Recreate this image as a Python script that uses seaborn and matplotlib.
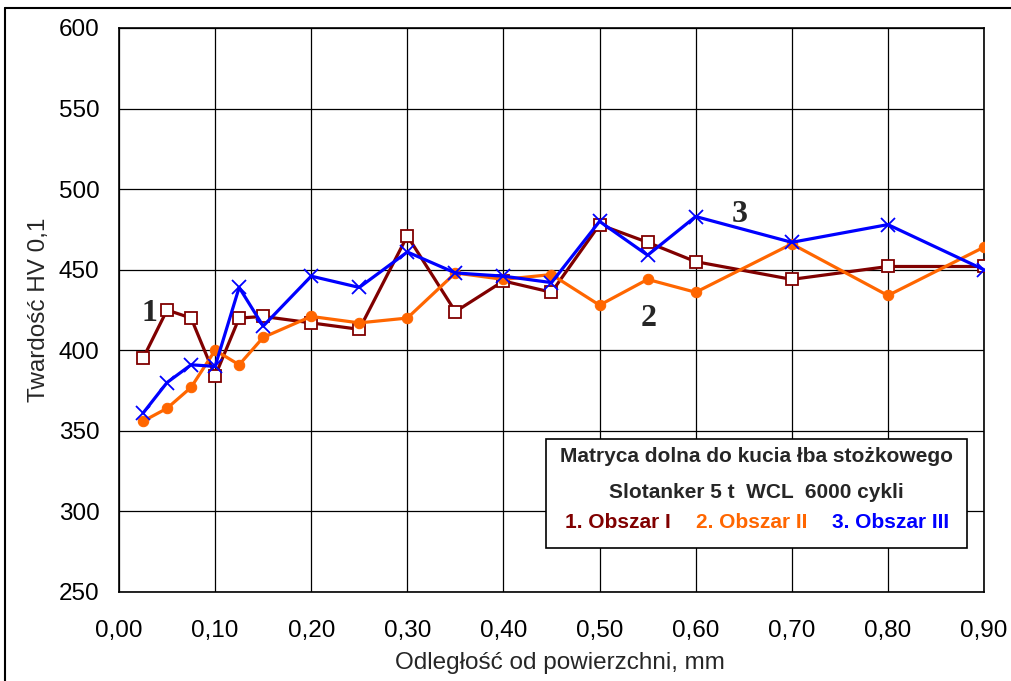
import numpy as np
import pandas as pd
import matplotlib
matplotlib.use("Agg")
import matplotlib.pyplot as plt
import seaborn as sns
from matplotlib.ticker import MultipleLocator, FuncFormatter

# ---- data ----
x_vals = [0.025, 0.05, 0.075, 0.10, 0.125, 0.15, 0.20, 0.25, 0.30, 0.35,
          0.40, 0.45, 0.50, 0.55, 0.60, 0.70, 0.80, 0.90]
obszar_1 = [395, 425, 420, 384, 420, 421, 417, 413, 471, 424,
            443, 436, 478, 467, 455, 444, 452, 452]
obszar_2 = [356, 364, 377, 400, 391, 408, 421, 417, 420, 448,
            444, 447, 428, 444, 436, 466, 434, 464]
obszar_3 = [361, 380, 391, 390, 439, 415, 446, 439, 461, 448,
            446, 442, 480, 459, 483, 467, 478, 450]

legend_title = ["Matryca dolna do kucia łba stożkowego",
                "Slotanker 5 t  WCL  6000 cykli"]
series_names = ["1. Obszar I", "2. Obszar II", "3. Obszar III"]
x_label = "Odległość od powierzchni, mm"
y_label = "Twardość HV 0,1"

sns.set_style("white")
plt.rcParams['font.family'] = ['Liberation Sans', 'DejaVu Sans']

fig = plt.figure(figsize=(10.12, 6.81), dpi=100)
W, H = 1012, 681
ax = fig.add_axes([119 / W, 1 - 592 / H, (984 - 119) / W, (592 - 28) / H])

c1, c2, c3 = "#800000", "#FF6600", "#0000FF"

sns.lineplot(x=x_vals, y=obszar_1, ax=ax, color=c1, lw=2.3, marker='s',
             markersize=8.5, markerfacecolor='white', markeredgecolor=c1,
             markeredgewidth=1.3, zorder=3)
sns.lineplot(x=x_vals, y=obszar_2, ax=ax, color=c2, lw=2.3, marker='o',
             markersize=7.5, markerfacecolor=c2, markeredgecolor=c2, zorder=4)
sns.lineplot(x=x_vals, y=obszar_3, ax=ax, color=c3, lw=2.3, marker='x',
             markersize=10, markeredgewidth=1.3, markeredgecolor=c3, zorder=5)

ax.set_xlim(0, 0.90)
ax.set_ylim(250, 600)
ax.xaxis.set_major_locator(MultipleLocator(0.10))
ax.xaxis.set_minor_locator(MultipleLocator(0.025))
ax.yaxis.set_major_locator(MultipleLocator(50))
ax.yaxis.set_minor_locator(MultipleLocator(10))
ax.xaxis.set_major_formatter(FuncFormatter(lambda v, p: f"{v:.2f}".replace('.', ',')))
ax.yaxis.set_major_formatter(FuncFormatter(lambda v, p: f"{v:.0f}"))
ax.tick_params(axis='both', which='major', direction='out', length=6, width=1,
               labelsize=17.5, colors='black')
ax.tick_params(axis='x', which='major', pad=14)
ax.tick_params(axis='y', which='major', pad=8)
ax.tick_params(axis='both', which='minor', direction='in', length=5.5, width=1)
ax.grid(True, which='major', color='black', lw=0.9)
for s in ax.spines.values():
    s.set_color('black')
    s.set_linewidth(1.2)
    s.set_visible(True)

ax.set_xlabel(x_label, fontsize=17.5)
ax.set_ylabel(y_label, fontsize=17.5)
ax.xaxis.set_label_coords((560 - 119) / 865, (592 - 663) / 564)
ax.xaxis.label.set_va('center')
ax.yaxis.set_label_coords((39 - 119) / 865, (592 - 310) / 564)
ax.yaxis.label.set_va('center')

# curve numbers
for lbl, xx, yy in [("1", 0.032, 423), ("2", 0.551, 420), ("3", 0.6455, 484)]:
    ax.text(xx, yy, lbl, fontsize=23, fontweight='bold', family='Liberation Serif',
            ha='center', va='center', zorder=6)

# legend box
bx0, by0, bx1, by1 = 546, 439, 967, 548
rect = plt.Rectangle((bx0 / W, 1 - by1 / H), (bx1 - bx0) / W, (by1 - by0) / H,
                     transform=fig.transFigure, facecolor='white',
                     edgecolor='black', lw=1.2, zorder=10)
fig.add_artist(rect)
cx = (bx0 + bx1) / 2 / W
fs = 15
fig.text(cx, 1 - 457 / H, legend_title[0], ha='center', va='center',
         fontsize=fs, fontweight='bold', zorder=11)
fig.text(cx, 1 - 492 / H, legend_title[1], ha='center', va='center',
         fontsize=fs, fontweight='bold', zorder=11)
for name, col, px in zip(series_names, [c1, c2, c3], [618, 752, 891]):
    fig.text(px / W, 1 - 523 / H, name, ha='center', va='center',
             fontsize=fs, fontweight='bold', color=col, zorder=11)

# outer frame
fig.add_artist(plt.Line2D([5 / W, 5 / W], [0, 1 - 8 / H], transform=fig.transFigure,
                          color='black', lw=1.5))
fig.add_artist(plt.Line2D([5 / W, 1], [1 - 8 / H, 1 - 8 / H], transform=fig.transFigure,
                          color='black', lw=1.5))

fig.savefig("out.png", dpi=100)
